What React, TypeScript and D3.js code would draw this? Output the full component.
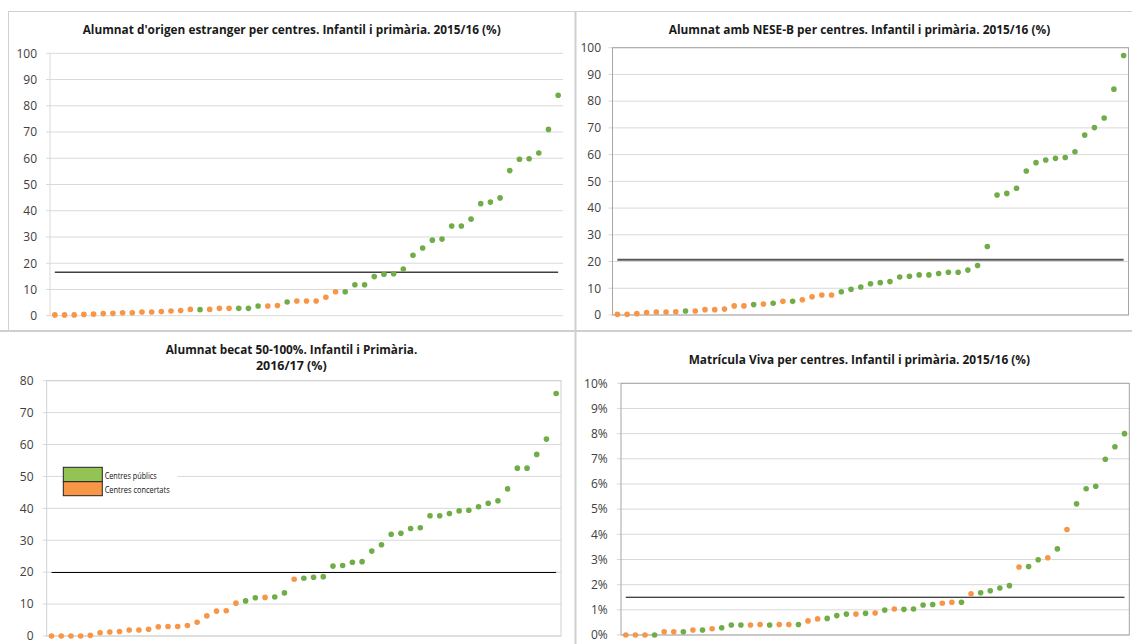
import React from "react";
import * as d3 from "d3";

const GREEN = "#70AD47";
const ORANGE = "#F79646";
const LEG_GREEN = "#92C353";

// Panel 1: Alumnat d'origen estranger
const origenValues = [
  0.3, 0.3, 0.3, 0.5, 0.6, 0.8, 0.9, 1.1, 1.1, 1.4, 1.4, 1.6, 1.8, 2.0, 2.4, 2.3, 2.4, 2.8, 2.8, 2.8,
  2.8, 3.7, 3.7, 3.9, 5.2, 5.6, 5.6, 5.6, 7.0, 9.1, 9.1, 11.8, 11.8, 14.9, 15.8, 16.0, 17.8, 23.0,
  25.8, 28.8, 29.2, 34.2, 34.2, 36.8, 42.7, 43.3, 44.9, 55.3, 59.6, 59.8, 62.0, 71.0, 84.0,
];
const origenSectors = "CCCCCCCCCCCCCCC P CCC PPP CC P CCCCC PPPPPPPPPPPPPPPPPPPPPPP";
const origenRef = 16.6;

// Panel 2: Alumnat amb NESE-B
const neseValues = [
  0.25, 0.25, 0.5, 0.9, 1.1, 1.1, 1.2, 1.5, 1.5, 2.0, 2.0, 2.2, 3.4, 3.4, 3.9, 4.1, 4.4, 5.1, 5.1,
  5.7, 6.8, 7.5, 7.5, 8.7, 9.6, 10.5, 11.7, 12.1, 12.5, 14.2, 14.5, 15.0, 15.0, 15.5, 16.0, 16.0,
  16.8, 18.5, 25.6, 44.9, 45.5, 47.4, 53.9, 57.0, 58.0, 58.6, 58.9, 61.1, 67.3, 70.1, 73.7, 84.5, 97.1,
];
const neseSectors = "CCCCCCC P CCCCCC P C P C P CCCC PPPPPPPPPPPPPPPPPPPPPPPPPPPPPP";
const neseRef = 20.7;

// Panel 3: Alumnat becat 50-100%
const becatValues = [
  0, 0, 0, 0, 0.2, 1.0, 1.25, 1.4, 1.9, 1.9, 2.1, 2.9, 3.0, 3.0, 3.3, 4.3, 6.3, 7.8, 7.9, 10.3, 11.0,
  12.0, 12.1, 12.2, 13.5, 17.8, 18.1, 18.4, 18.6, 21.9, 22.1, 23.1, 23.3, 26.6, 28.6, 31.9, 32.2,
  33.7, 33.9, 37.7, 37.7, 38.4, 39.2, 39.4, 40.5, 41.6, 42.4, 46.1, 52.6, 52.6, 56.9, 61.7, 76.0,
];
const becatSectors = "CCCCCCCCCCCCCCCCCCCC PP C PP C PPPPPPPPPPPPPPPPPPPPPPPPPPP";
const becatRef = 19.9;

// Panel 4: Matrícula Viva (%)
const vivaValues = [
  0, 0, 0, 0, 0.13, 0.13, 0.13, 0.2, 0.2, 0.25, 0.29, 0.4, 0.4, 0.4, 0.42, 0.4, 0.42, 0.42, 0.42,
  0.56, 0.64, 0.66, 0.77, 0.83, 0.83, 0.86, 0.87, 0.99, 1.03, 1.02, 1.03, 1.19, 1.21, 1.26, 1.3, 1.3,
  1.64, 1.68, 1.76, 1.87, 1.96, 2.7, 2.72, 2.99, 3.07, 3.42, 4.19, 5.21, 5.81, 5.91, 6.98, 7.48, 8.0,
];
const vivaSectors = "CCC P CC P C P C PPP CC P CC P CC PPP C P C P C PPPP CC P C PPPP C PP C P C PPPPPP";
const vivaRef = 1.5;

const ticks100 = [0, 10, 20, 30, 40, 50, 60, 70, 80, 90, 100];
const ticks80 = [0, 10, 20, 30, 40, 50, 60, 70, 80];
const ticksPct = [0, 1, 2, 3, 4, 5, 6, 7, 8, 9, 10];

const legendLabels = ["Centres públics", "Centres concertats"];

const TICK_FONT = "'Open Sans', Roboto, sans-serif";
const TITLE_FONT = "'Open Sans', Roboto, sans-serif";

type Title = { text: string; x: number; y: number; w: number };

type PanelProps = {
  values: number[];
  sectors: string;
  refValue: number;
  maxY: number;
  ticks: number[];
  fmt: (v: number) => string;
  left: number;
  right: number;
  top: number;
  bottom: number;
  box: string | null;
  labelRight: number;
  refColor: string;
  refWidth: number;
  titles: Title[];
};

function Panel(p: PanelProps) {
  const sec = p.sectors.replace(/ /g, "").split("");
  const idx = p.values.map((_, i) => i);
  const x = d3.scaleBand<number>().domain(idx).range([p.left, p.right]).padding(0);
  const y = d3.scaleLinear().domain([0, p.maxY]).range([p.bottom, p.top]);
  const cx = (i: number) => (x(i) as number) + x.bandwidth() / 2;
  return (
    <g>
      {p.ticks.map((t) => (
        <line key={"g" + t} x1={p.left - 4} x2={p.right} y1={y(t)} y2={y(t)} stroke="#d9d9d9" strokeWidth={1} />
      ))}
      {p.box ? (
        <rect x={p.left} y={p.top} width={p.right - p.left} height={p.bottom - p.top} fill="none" stroke={p.box} strokeWidth={1} />
      ) : (
        <line x1={p.left} x2={p.left} y1={p.top} y2={p.bottom} stroke="#d9d9d9" strokeWidth={1} />
      )}
      {p.ticks.map((t) => (
        <text key={"t" + t} x={p.labelRight} y={y(t)} dy="0.36em" textAnchor="end" fontSize={12} fill="#404040" fontFamily={TICK_FONT}>
          {p.fmt(t)}
        </text>
      ))}
      <line x1={cx(0)} x2={cx(p.values.length - 1)} y1={y(p.refValue)} y2={y(p.refValue)} stroke={p.refColor} strokeWidth={p.refWidth} />
      {p.values.map((v, i) => (
        <circle key={"c" + i} cx={cx(i)} cy={y(v)} r={2.8} fill={sec[i] === "P" ? GREEN : ORANGE} />
      ))}
      {p.titles.map((t, i) => (
        <text key={"ti" + i} x={t.x} y={t.y} fontSize={11.5} fontWeight="bold" fill="#1a1a1a" fontFamily={TITLE_FONT}
          textLength={t.w} lengthAdjust="spacingAndGlyphs">
          {t.text}
        </text>
      ))}
    </g>
  );
}

export default function App() {
  const W = 1132;
  const H = 644;
  return (
    <svg width={W} height={H} style={{ position: "absolute", left: 0, top: 0, background: "#fff" }}>
      <rect x={0} y={0} width={W} height={H} fill="#fff" />
      {/* frame lines */}
      <line x1={8} x2={W} y1={11.5} y2={11.5} stroke="#d0d0d0" strokeWidth={1} />
      <line x1={8.5} x2={8.5} y1={11} y2={331} stroke="#d0d0d0" strokeWidth={1} />
      <line x1={0} x2={W} y1={331} y2={331} stroke="#cfcfcf" strokeWidth={2} />
      <line x1={575.5} x2={575.5} y1={11} y2={H} stroke="#cfcfcf" strokeWidth={2} />

      <Panel
        values={origenValues}
        sectors={origenSectors}
        refValue={origenRef}
        maxY={100}
        ticks={ticks100}
        fmt={(v) => String(v)}
        left={50}
        right={563}
        top={53.3}
        bottom={315.7}
        box={null}
        labelRight={37}
        refColor="#404040"
        refWidth={1.5}
        titles={[{ text: "Alumnat d'origen estranger per centres. Infantil i primària. 2015/16 (%)", x: 82.7, y: 33.5, w: 418 }]}
      />
      <Panel
        values={neseValues}
        sectors={neseSectors}
        refValue={neseRef}
        maxY={100}
        ticks={ticks100}
        fmt={(v) => String(v)}
        left={612.5}
        right={1128.5}
        top={47.7}
        bottom={315}
        box="#a6a6a6"
        labelRight={601}
        refColor="#595959"
        refWidth={2}
        titles={[{ text: "Alumnat amb NESE-B per centres. Infantil i primària. 2015/16 (%)", x: 668.7, y: 34, w: 381.5 }]}
      />
      <Panel
        values={becatValues}
        sectors={becatSectors}
        refValue={becatRef}
        maxY={80}
        ticks={ticks80}
        fmt={(v) => String(v)}
        left={46.7}
        right={561}
        top={380.7}
        bottom={636}
        box="#d0d0d0"
        labelRight={33.5}
        refColor="#000"
        refWidth={1}
        titles={[
          { text: "Alumnat becat 50-100%. Infantil i Primària.", x: 165.7, y: 353.5, w: 251.6 },
          { text: "2016/17 (%)", x: 256, y: 370, w: 70.7 },
        ]}
      />
      <Panel
        values={vivaValues}
        sectors={vivaSectors}
        refValue={vivaRef}
        maxY={10}
        ticks={ticksPct}
        fmt={(v) => v + "%"}
        left={621}
        right={1129.3}
        top={383.3}
        bottom={635}
        box="#a6a6a6"
        labelRight={607.7}
        refColor="#000"
        refWidth={1}
        titles={[{ text: "Matrícula Viva per centres. Infantil i primària. 2015/16 (%)", x: 688.7, y: 363.5, w: 341.3 }]}
      />

      {/* legend */}
      <rect x={63.3} y={466} width={114} height={31} fill="#fff" />
      <rect x={63.3} y={467.3} width={39} height={14.4} fill={LEG_GREEN} stroke="#222" strokeWidth={1} />
      <rect x={63.3} y={481.7} width={39} height={14} fill={ORANGE} stroke="#222" strokeWidth={1} />
      <text x={104.7} y={478.5} fontSize={8.5} fill="#111" fontFamily={TICK_FONT} textLength={52} lengthAdjust="spacingAndGlyphs">
        {legendLabels[0]}
      </text>
      <text x={104.7} y={492.5} fontSize={8.5} fill="#111" fontFamily={TICK_FONT} textLength={65} lengthAdjust="spacingAndGlyphs">
        {legendLabels[1]}
      </text>
    </svg>
  );
}
